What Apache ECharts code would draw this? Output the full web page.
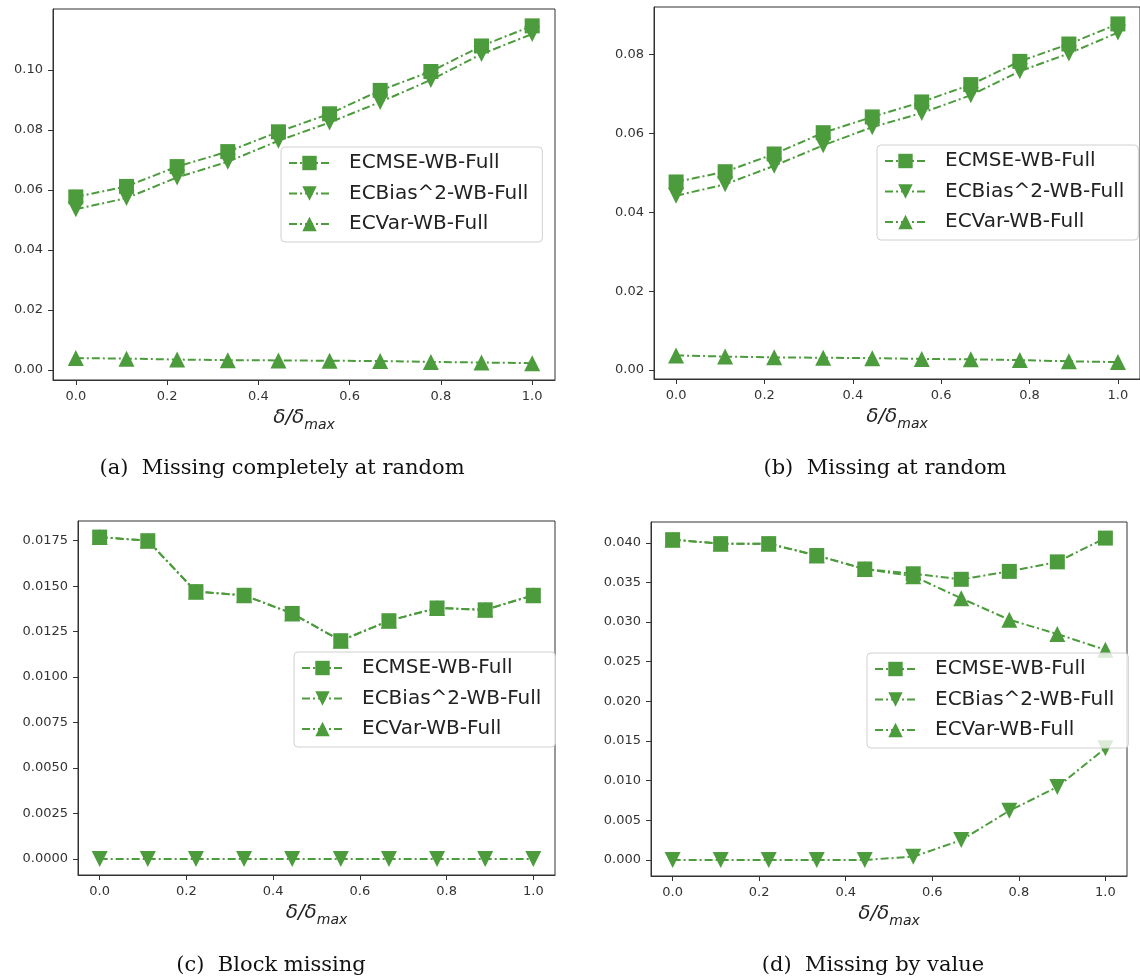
<!DOCTYPE html>
<html><head><meta charset="utf-8">
<script src="https://cdn.jsdelivr.net/npm/echarts@6/dist/echarts.min.js"></script>
<style>html,body{margin:0;padding:0;background:#fff}#c{width:1140px;height:978px}</style>
</head><body><div id="c"></div>
<script>
// ---------- data ----------
const xValues = [0, 0.111, 0.222, 0.333, 0.444, 0.556, 0.667, 0.778, 0.889, 1.0];
const xTicks = [0, 0.2, 0.4, 0.6, 0.8, 1.0];
const seriesNames = ['ECMSE-WB-Full', 'ECBias^2-WB-Full', 'ECVar-WB-Full'];

// (a) Missing completely at random
const aMse  = [0.0577, 0.0612, 0.0678, 0.0728, 0.0794, 0.0854, 0.0932, 0.0995, 0.1080, 0.1147];
const aBias = [0.0536, 0.0573, 0.0642, 0.0694, 0.0764, 0.0825, 0.0893, 0.0967, 0.1053, 0.1120];
const aVar  = [0.0040, 0.0038, 0.0035, 0.0033, 0.0032, 0.0031, 0.0030, 0.0027, 0.0025, 0.0023];
const aYTicks = [0, 0.02, 0.04, 0.06, 0.08, 0.10];

// (b) Missing at random
const bMse  = [0.0477, 0.0503, 0.0548, 0.0602, 0.0642, 0.0680, 0.0724, 0.0783, 0.0827, 0.0878];
const bBias = [0.0442, 0.0471, 0.0518, 0.0570, 0.0616, 0.0652, 0.0697, 0.0758, 0.0803, 0.0856];
const bVar  = [0.0037, 0.0034, 0.0032, 0.0031, 0.0030, 0.0028, 0.0027, 0.0025, 0.0022, 0.0020];
const bYTicks = [0, 0.02, 0.04, 0.06, 0.08];

// (c) Block missing
const cMse  = [0.0177, 0.0175, 0.0147, 0.0145, 0.0135, 0.0120, 0.0131, 0.0138, 0.0137, 0.0145];
const cBias = [0.0000, 0.0000, 0.0000, 0.0000, 0.0000, 0.0000, 0.0000, 0.0000, 0.0000, 0.0000];
const cVar  = [0.0177, 0.0175, 0.0147, 0.0145, 0.0135, 0.0120, 0.0131, 0.0138, 0.0137, 0.0145];
const cYTicks = [0, 0.0025, 0.005, 0.0075, 0.01, 0.0125, 0.015, 0.0175];

// (d) Missing by value
const dMse  = [0.0404, 0.0399, 0.0399, 0.0384, 0.0367, 0.0361, 0.0354, 0.0364, 0.0376, 0.0406];
const dBias = [0.0000, 0.0000, 0.0000, 0.0000, 0.0000, 0.0004, 0.0025, 0.0062, 0.0092, 0.0141];
const dVar  = [0.0404, 0.0399, 0.0399, 0.0384, 0.0367, 0.0358, 0.0330, 0.0303, 0.0285, 0.0265];
const dYTicks = [0, 0.005, 0.01, 0.015, 0.02, 0.025, 0.03, 0.035, 0.04];

const captions = ['(a)  Missing completely at random', '(b)  Missing at random', '(c)  Block missing', '(d)  Missing by value'];

// ---------- layout ----------
const GREEN = '#4c9b3c';
const AXIS = '#333333';
const panels = [
  {mse: aMse, bias: aBias, vr: aVar, yTicks: aYTicks, dec: 2, grid: {left: 53, top: 9, width: 502, height: 371}, legend: {left: 281, top: 147}, cap: {x: 282, y: 469}},
  {mse: bMse, bias: bBias, vr: bVar, yTicks: bYTicks, dec: 2, grid: {left: 654, top: 7, width: 495, height: 372}, legend: {left: 877, top: 145}, cap: {x: 885, y: 469}},
  {mse: cMse, bias: cBias, vr: cVar, yTicks: cYTicks, dec: 4, grid: {left: 78, top: 521, width: 477, height: 354}, legend: {left: 294, top: 652}, cap: {x: 271, y: 966}},
  {mse: dMse, bias: dBias, vr: dVar, yTicks: dYTicks, dec: 3, grid: {left: 651, top: 522, width: 476, height: 354}, legend: {left: 867, top: 653}, cap: {x: 873, y: 966}}
];

function pairs(ys) { return xValues.map((x, i) => [x, ys[i]]); }

const grid = [], xAxis = [], yAxis = [], series = [], legend = [], graphic = [];
const lineStyle = {color: GREEN, width: 2, type: [8, 3, 2, 3]};

panels.forEach((p, k) => {
  grid.push(Object.assign({show: true, borderColor: AXIS, borderWidth: 1, backgroundColor: '#fff'}, p.grid));
  const all = p.mse.concat(p.bias, p.vr);
  const lo = Math.min(...all), hi = Math.max(...all), pad = (hi - lo) * 0.05;
  xAxis.push({
    type: 'value', gridIndex: k, min: -0.05, max: 1.05,
    axisLine: {show: true, onZero: false, lineStyle: {color: AXIS, width: 1}},
    axisTick: {show: true, inside: false, length: 5, lineStyle: {color: AXIS}, customValues: xTicks},
    axisLabel: {color: '#333', fontSize: 13, fontFamily: 'DejaVu Sans', margin: 10, customValues: xTicks, formatter: v => v.toFixed(1)},
    splitLine: {show: false},
    name: '{a|δ/δ}{b|max}', nameLocation: 'middle', nameGap: 24,
    nameTextStyle: {rich: {
      a: {fontFamily: 'DejaVu Sans', fontStyle: 'italic', fontSize: 20, color: '#222', lineHeight: 28, verticalAlign: 'middle'},
      b: {fontFamily: 'DejaVu Sans', fontStyle: 'italic', fontSize: 14, color: '#222', lineHeight: 15, verticalAlign: 'bottom'}
    }}
  });
  yAxis.push({
    type: 'value', gridIndex: k, min: lo - pad, max: hi + pad,
    axisLine: {show: true, onZero: false, lineStyle: {color: AXIS, width: 1}},
    axisTick: {show: true, inside: false, length: 5, lineStyle: {color: AXIS}, customValues: p.yTicks},
    axisLabel: {color: '#333', fontSize: 13, fontFamily: 'DejaVu Sans', margin: 10, customValues: p.yTicks, formatter: v => v.toFixed(p.dec)},
    splitLine: {show: false}
  });
  // draw order: var, bias, mse (mse on top)
  series.push({name: seriesNames[2], type: 'line', xAxisIndex: k, yAxisIndex: k, data: pairs(p.vr),
    symbol: 'triangle', symbolSize: 16, itemStyle: {color: GREEN}, lineStyle: lineStyle, clip: false});
  series.push({name: seriesNames[1], type: 'line', xAxisIndex: k, yAxisIndex: k, data: pairs(p.bias),
    symbol: 'path://M0,0L10,0L5,10Z', symbolSize: 16, itemStyle: {color: GREEN}, lineStyle: lineStyle, clip: false});
  series.push({name: seriesNames[0], type: 'line', xAxisIndex: k, yAxisIndex: k, data: pairs(p.mse),
    symbol: 'rect', symbolSize: 15, itemStyle: {color: GREEN}, lineStyle: lineStyle, clip: false});
  legend.push({
    data: seriesNames, orient: 'vertical', left: p.legend.left, top: p.legend.top,
    itemWidth: 41, itemHeight: 18, itemGap: 8.5, selectedMode: false,
    padding: [5, 14, 7, 7],
    backgroundColor: 'rgba(255,255,255,0.8)', borderColor: '#d0d0d0', borderWidth: 1, borderRadius: 4,
    textStyle: {fontFamily: 'DejaVu Sans', fontSize: 20, color: '#222', padding: [0, 0, 0, 14], lineHeight: 22}
  });
  graphic.push({type: 'text', x: p.cap.x, y: p.cap.y, z: 100,
    style: {text: captions[k], font: '21px "DejaVu Serif"', fill: '#111', textAlign: 'center', textVerticalAlign: 'middle'}});
});

const chart = echarts.init(document.getElementById('c'), null, {renderer: 'canvas'});
chart.setOption({animation: false, backgroundColor: '#fff', grid, xAxis, yAxis, series, legend, graphic});
</script></body></html>
